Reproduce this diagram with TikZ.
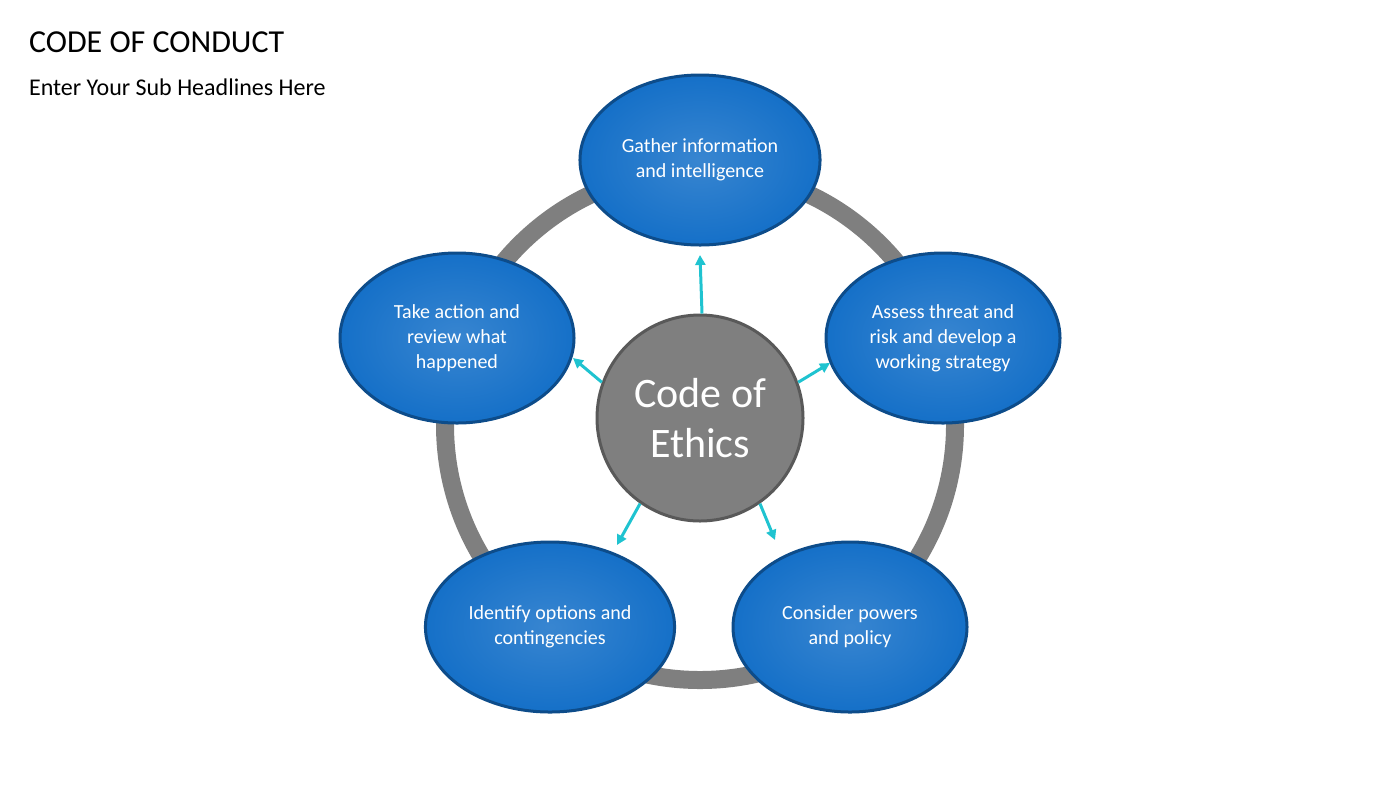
\documentclass[tikz,border=0pt]{standalone}
\usepackage{fontspec}
\setmainfont{Carlito}
\usetikzlibrary{arrows.meta}
\definecolor{eblue}{HTML}{1570C8}
\definecolor{eedge}{HTML}{0D4C8A}
\definecolor{ring}{HTML}{7F7F7F}
\definecolor{arr}{HTML}{1FC3D0}
\begin{document}
\begin{tikzpicture}[x=0.5pt,y=-0.5pt,
 ell/.style={ellipse,draw=eedge,line width=1.5pt,inner color=eblue!85!white,outer color=eblue,minimum width=117pt,minimum height=85pt,text=white,font=\fontsize{10}{12.5}\selectfont,align=center},
 ptr/.style={draw=arr,line width=1.5pt,-{Triangle[length=5pt,width=5pt]}}]
\useasboundingbox (0,0) rectangle (1400,788);
\usetikzlibrary{shapes.geometric}
\node[anchor=west,font=\fontsize{16}{19}\selectfont] (title) at (22,42) {CODE OF CONDUCT};
\node[anchor=west,font=\fontsize{12}{14}\selectfont] (sub) at (22,87) {Enter Your Sub Headlines Here};
\draw[ring,line width=9pt] (700,425) circle[radius=255];
\node[circle,draw=ring!70!black,line width=1.5pt,fill=ring,minimum size=103pt,text=white,font=\fontsize{21}{25}\selectfont,align=center] (c) at (700,418) {Code of\\Ethics};
\node[ell] (t) at (700,160) {Gather information\\and intelligence};
\node[ell] (r) at (943,338) {Assess threat and\\risk and develop a\\working strategy};
\node[ell] (l) at (457,338) {Take action and\\review what\\happened};
\node[ell] (bl) at (550,627) {Identify options and\\contingencies};
\node[ell] (br) at (850,627) {Consider powers\\and policy};
\coordinate (a1) at (700,255); \coordinate (a2) at (830,363); \coordinate (a3) at (573,358);
\coordinate (a4) at (617,545); \coordinate (a5) at (775,540);
\draw[ptr] (c.north) ++(2,0) -- (a1);
\draw[ptr] (c.20) -- (a2);
\draw[ptr] (c.160) -- (a3);
\draw[ptr] (c.235) -- (a4);
\draw[ptr] (c.305) -- (a5);
\end{tikzpicture}
\end{document}
